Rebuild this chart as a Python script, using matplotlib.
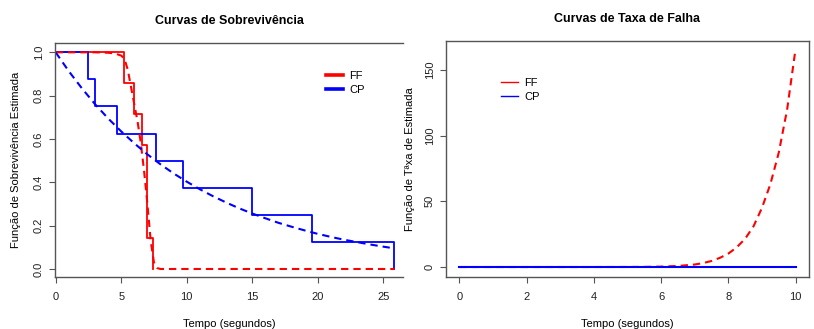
import matplotlib
matplotlib.use("Agg")
import matplotlib.pyplot as plt
from matplotlib.lines import Line2D

plt.rcParams['font.family'] = ['Liberation Sans Narrow', 'Liberation Sans', 'DejaVu Sans']

# Kaplan-Meier estimates (step functions)
ff_km_time = [0, 5.24, 5.98, 6.56, 6.99, 7.45]
ff_km_surv = [1.0, 0.857, 0.714, 0.571, 0.143, 0.0]
cp_km_time = [0, 2.49, 3.0, 4.65, 7.66, 9.74, 15.0, 19.54, 25.85]
cp_km_surv = [1.0, 0.875, 0.75, 0.625, 0.5, 0.375, 0.25, 0.125, 0.0]

# Fitted parametric survival curves
ff_fit_time = [0, 3, 4, 4.5, 5, 5.25, 5.5, 5.75, 6, 6.25, 6.5, 6.75, 7, 7.25,
               7.5, 7.75, 8, 10, 15, 20, 25.85]
ff_fit_surv = [1.0, 1.0, 0.998, 0.995, 0.985, 0.97, 0.92, 0.84, 0.76, 0.68,
               0.58, 0.45, 0.30, 0.13, 0.03, 0.004, 0.0, 0.0, 0.0, 0.0, 0.0]
cp_fit_time = [0, 1, 2, 3, 4, 5, 6, 7, 8, 9, 10, 11, 12, 13, 14, 15, 16, 17,
               18, 19, 20, 21, 22, 23, 24, 25, 25.85]
cp_fit_surv = [1.0, 0.913, 0.834, 0.761, 0.695, 0.635, 0.58, 0.529, 0.483,
               0.441, 0.403, 0.368, 0.336, 0.307, 0.28, 0.256, 0.234, 0.213,
               0.195, 0.178, 0.162, 0.148, 0.135, 0.124, 0.113, 0.103, 0.095]

# Estimated hazard curves
hz_time = [0, 1, 2, 3, 4, 5, 5.5, 6, 6.5, 7, 7.25, 7.5, 7.75, 8, 8.25, 8.5,
           8.75, 9, 9.25, 9.5, 9.75, 10]
ff_hazard = [0, 0, 0, 0, 0, 0.03, 0.1, 0.3, 0.8, 1.9, 3.0, 4.6, 7.0, 10.2, 15,
             21.5, 31, 45, 63, 87, 120, 166]
cp_hz_time = [0, 10]
cp_hazard = [0.09, 0.09]

groups = ["FF", "CP"]
colors = {"FF": "#ff0000", "CP": "#0000ff"}

left_xticks = [0, 5, 10, 15, 20, 25]
left_yticks = [0.0, 0.2, 0.4, 0.6, 0.8, 1.0]
right_xticks = [0, 2, 4, 6, 8, 10]
right_yticks = [0, 50, 100, 150]

W, H = 814, 329
fig = plt.figure(figsize=(W / 100, H / 100), dpi=100)


def rect(x0, y0, x1, y1):
    return [x0 / W, 1 - y1 / H, (x1 - x0) / W, (y1 - y0) / H]


spine_col = "#555555"
tick_fs = 8
dash = (3.5, 2.4)

# ---- Survival panel ----
ax1 = fig.add_axes(rect(55, 43, 403, 277))
ax1.step(ff_km_time, ff_km_surv, where="post", color=colors["FF"], lw=1.3)
ax1.step(cp_km_time, cp_km_surv, where="post", color=colors["CP"], lw=1.3)
ax1.plot(ff_fit_time, ff_fit_surv, color=colors["FF"], lw=1.5, dashes=dash)
ax1.plot(cp_fit_time, cp_fit_surv, color=colors["CP"], lw=1.5, dashes=dash)
ax1.set_xlim(-0.05, 26.5)
ax1.set_ylim(-0.037, 1.043)
ax1.set_xticks(left_xticks)
ax1.set_yticks(left_yticks)
ax1.set_yticklabels([f"{v:.1f}" for v in left_yticks], rotation=90, va="center")
ax1.spines["right"].set_visible(False)
ax1.set_title("Curvas de Sobrevivência", fontsize=9, fontweight="bold",
              family=["Liberation Sans", "DejaVu Sans"], pad=14)
ax1.set_xlabel("Tempo (segundos)", fontsize=8, labelpad=12)
ax1.set_ylabel("Função de Sobrevivência Estimada", fontsize=8, labelpad=9)
handles1 = [Line2D([], [], color=colors[g], lw=2.6) for g in groups]
ax1.legend(handles1, groups, loc="upper left", frameon=False, fontsize=8,
           bbox_to_anchor=(326 / W, 1 - 71 / H), bbox_transform=fig.transFigure,
           borderpad=0, borderaxespad=0, handlelength=1.5, handletextpad=0.6,
           labelspacing=0.35)

# ---- Hazard panel ----
ax2 = fig.add_axes(rect(446, 41, 809, 277))
ax2.plot(hz_time, ff_hazard, color=colors["FF"], lw=1.5, dashes=dash)
ax2.plot(cp_hz_time, cp_hazard, color=colors["CP"], lw=1.5)
ax2.set_xlim(-0.4, 10.4)
ax2.set_ylim(-7.6, 172)
ax2.set_xticks(right_xticks)
ax2.set_yticks(right_yticks)
ax2.set_yticklabels([str(v) for v in right_yticks], rotation=90, va="center")
ax2.set_title("Curvas de Taxa de Falha", fontsize=9, fontweight="bold",
              family=["Liberation Sans", "DejaVu Sans"], pad=14)
ax2.set_xlabel("Tempo (segundos)", fontsize=8, labelpad=12)
ax2.set_ylabel("Função de Tªxa de Estimada", fontsize=8, labelpad=7)
handles2 = [Line2D([], [], color=colors[g], lw=1.0) for g in groups]
ax2.legend(handles2, groups, loc="upper left", frameon=False, fontsize=8,
           bbox_to_anchor=(501 / W, 1 - 78 / H), bbox_transform=fig.transFigure,
           borderpad=0, borderaxespad=0, handlelength=1.5, handletextpad=0.6,
           labelspacing=0.35)

for ax in (ax1, ax2):
    for s in ax.spines.values():
        s.set_color(spine_col)
        s.set_linewidth(1.0)
    ax.tick_params(axis="both", direction="out", length=4, width=0.8,
                   color=spine_col, labelsize=tick_fs, labelcolor="#222222")
    ax.tick_params(axis="x", pad=7)
    ax.tick_params(axis="y", pad=4)

fig.savefig("out.png", dpi=100)
